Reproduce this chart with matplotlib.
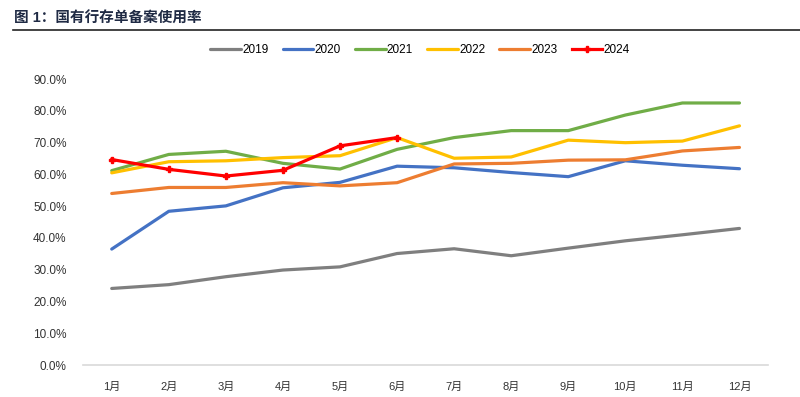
import matplotlib.pyplot as plt
from matplotlib.lines import Line2D
from matplotlib.ticker import PercentFormatter

plt.rcParams['font.family'] = ['Liberation Sans', 'Noto Sans CJK SC', 'DejaVu Sans']

months = ['1月', '2月', '3月', '4月', '5月', '6月', '7月', '8月', '9月', '10月', '11月', '12月']
y2019 = [24.1, 25.3, 27.8, 29.9, 30.9, 35.1, 36.6, 34.4, 36.8, 39.1, 41.0, 43.0]
y2020 = [36.5, 48.4, 50.1, 55.8, 57.5, 62.6, 62.1, 60.6, 59.3, 64.3, 62.9, 61.8]
y2021 = [61.2, 66.3, 67.3, 63.5, 61.7, 67.9, 71.6, 73.8, 73.8, 78.7, 82.5, 82.5]
y2022 = [60.5, 64.0, 64.3, 65.3, 65.9, 71.6, 65.1, 65.5, 70.8, 70.0, 70.5, 75.3]
y2023 = [54.0, 55.9, 55.9, 57.4, 56.4, 57.4, 63.3, 63.5, 64.5, 64.6, 67.4, 68.5]
y2024 = [64.7, 61.6, 59.5, 61.3, 69.0, 71.6]

series = [
    ('2019', y2019, '#7f7f7f'),
    ('2020', y2020, '#4472c4'),
    ('2021', y2021, '#70ad47'),
    ('2022', y2022, '#ffc000'),
    ('2023', y2023, '#ed7d31'),
]

fig = plt.figure(figsize=(8, 3.97), dpi=100)
ax = fig.add_axes([0.104, 0.0806, 0.856, 0.72])

x = list(range(1, 13))
for name, vals, col in series:
    ax.plot(x, vals, color=col, lw=2.3, label=name, solid_capstyle='round')
ax.plot(x[:len(y2024)], y2024, color='#ff0000', lw=2.3, marker='P', ms=5,
        label='2024')

ax.set_xlim(0.5, 12.5)
ax.set_ylim(0, 90)
ax.set_yticks(range(0, 91, 10))
ax.yaxis.set_major_formatter(PercentFormatter(decimals=1))
ax.set_xticks(x)
ax.set_xticklabels(months, fontsize=8, color='#333333')
for lab in ax.get_yticklabels():
    lab.set_fontsize(8.5)
    lab.set_color('#333333')
ax.tick_params(length=0)
ax.tick_params(axis='x', pad=12)
ax.tick_params(axis='y', pad=12)
for s in ['top', 'right', 'left']:
    ax.spines[s].set_visible(False)
ax.spines['bottom'].set_color('#d9d9d9')
ax.spines['bottom'].set_linewidth(1.2)

ax.legend(loc='center', bbox_to_anchor=(0.492, 1.102), ncol=6, frameon=False,
          fontsize=8.5, handlelength=2.6, handletextpad=0.1, columnspacing=1.2)

fig.text(0.018, 0.97, '图 1：国有行存单备案使用率', fontsize=10.5, fontweight='bold',
         color='#1f2a44', va='top')
fig.add_artist(Line2D([0.016, 1.0], [0.925, 0.925], color='#222222', lw=1.2))

fig.savefig('out.png', dpi=100)
